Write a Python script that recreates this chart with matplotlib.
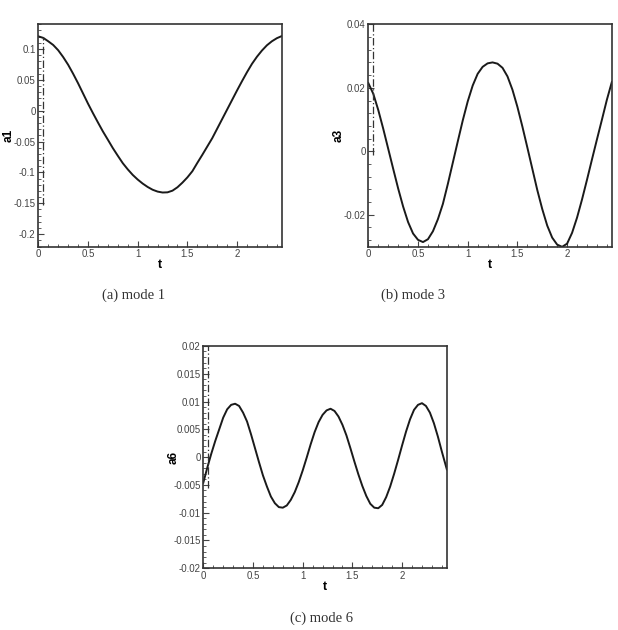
import matplotlib
matplotlib.use("Agg")
import matplotlib.pyplot as plt
from matplotlib.ticker import MultipleLocator

# mode 1 time coefficient
t_a1 = [0.0, 0.05, 0.10, 0.15, 0.20, 0.25, 0.30, 0.35, 0.40, 0.45, 0.50, 0.55, 0.60,
        0.65, 0.70, 0.75, 0.80, 0.85, 0.90, 0.95, 1.00, 1.05, 1.10, 1.15, 1.20, 1.25,
        1.30, 1.35, 1.40, 1.45, 1.50, 1.55, 1.60, 1.65, 1.70, 1.75, 1.80, 1.85, 1.90,
        1.95, 2.00, 2.05, 2.10, 2.15, 2.20, 2.25, 2.30, 2.35, 2.40, 2.45]
a1 = [0.1205, 0.118, 0.1125, 0.1065, 0.098, 0.087, 0.0745, 0.060, 0.0445, 0.028, 0.0115,
      -0.004, -0.019, -0.0336, -0.047, -0.0606, -0.073, -0.085, -0.095, -0.104, -0.1115,
      -0.118, -0.1235, -0.128, -0.131, -0.1325, -0.1322, -0.1295, -0.124, -0.1165, -0.108,
      -0.098, -0.0845, -0.0715, -0.058, -0.0445, -0.029, -0.0135, 0.002, 0.0175, 0.033,
      0.048, 0.0625, 0.076, 0.0875, 0.0975, 0.106, 0.1125, 0.1175, 0.121]

# mode 3 time coefficient
t_a3 = [0.0, 0.05, 0.10, 0.15, 0.20, 0.25, 0.30, 0.35, 0.40, 0.45, 0.50, 0.55, 0.60,
        0.65, 0.70, 0.75, 0.80, 0.85, 0.90, 0.95, 1.00, 1.05, 1.10, 1.15, 1.20, 1.25,
        1.30, 1.35, 1.40, 1.45, 1.50, 1.55, 1.60, 1.65, 1.70, 1.75, 1.80, 1.85, 1.90,
        1.95, 2.00, 2.05, 2.10, 2.15, 2.20, 2.25, 2.30, 2.35, 2.40, 2.45]
a3 = [0.0215, 0.0181, 0.0130, 0.0071, 0.0008, -0.0055, -0.0117, -0.0174, -0.0223, -0.0259,
      -0.0279, -0.0286, -0.0277, -0.0252, -0.0214, -0.0166, -0.0103, -0.0036, 0.0031, 0.0097,
      0.0157, 0.0207, 0.0244, 0.0266, 0.0277, 0.0280, 0.0276, 0.0263, 0.0236, 0.0194,
      0.0140, 0.0078, 0.0012, -0.0055, -0.0122, -0.0182, -0.0234, -0.0272, -0.0294, -0.0301,
      -0.0291, -0.0257, -0.0209, -0.0152, -0.0090, -0.0026, 0.0037, 0.0099, 0.0162, 0.0218]

# mode 6 time coefficient
t_a6 = [0.0, 0.04, 0.08, 0.12, 0.16, 0.20, 0.24, 0.28, 0.32, 0.36, 0.40, 0.44, 0.48,
        0.52, 0.56, 0.60, 0.64, 0.68, 0.72, 0.76, 0.80, 0.84, 0.88, 0.92, 0.96, 1.00,
        1.04, 1.08, 1.12, 1.16, 1.20, 1.24, 1.28, 1.32, 1.36, 1.40, 1.44, 1.48, 1.52,
        1.56, 1.60, 1.64, 1.68, 1.72, 1.76, 1.80, 1.84, 1.88, 1.92, 1.96, 2.00, 2.04,
        2.08, 2.12, 2.16, 2.20, 2.24, 2.28, 2.32, 2.36, 2.40, 2.45]
a6 = [-0.0046, -0.0019, 0.0006, 0.0029, 0.0050, 0.0071, 0.0086, 0.0094, 0.0096, 0.0092,
      0.0080, 0.0064, 0.0041, 0.0016, -0.0009, -0.0033, -0.0053, -0.0071, -0.0083, -0.0090,
      -0.0091, -0.0087, -0.0077, -0.0063, -0.0045, -0.0024, -0.0001, 0.0023, 0.0045, 0.0063,
      0.0076, 0.0084, 0.0087, 0.0083, 0.0073, 0.0058, 0.0039, 0.0016, -0.0008, -0.0031,
      -0.0052, -0.0070, -0.0084, -0.0091, -0.0092, -0.0086, -0.0072, -0.0053, -0.0030, -0.0005,
      0.0021, 0.0046, 0.0068, 0.0085, 0.0094, 0.0097, 0.0092, 0.0080, 0.0061, 0.0037,
      0.0010, -0.0022]

# dash-dot marker lines near the start of each record
cut_t = [0.05, 0.05, 0.05]
cut_lo = [-0.153, -0.0012, -0.0055]
cut_hi = [0.120, 0.040, 0.020]

ylabels = ["a1", "a3", "a6"]
captions = ["(a) mode 1", "(b) mode 3", "(c) mode 6"]
ylims = [(-0.22, 0.14), (-0.03, 0.04), (-0.02, 0.02)]
yminor = [0.01, 0.004, 0.001]
yticks = [[-0.2, -0.15, -0.1, -0.05, 0, 0.05, 0.1],
          [-0.02, 0, 0.02, 0.04],
          [-0.02, -0.015, -0.01, -0.005, 0, 0.005, 0.01, 0.015, 0.02]]
yticklabels = [["-0.2", "-0.15", "-0.1", "-0.05", "0", "0.05", "0.1"],
               ["-0.02", "0", "0.02", "0.04"],
               ["-0.02", "-0.015", "-0.01", "-0.005", "0", "0.005", "0.01", "0.015", "0.02"]]
xticks = [0, 0.5, 1, 1.5, 2]
xticklabels = ["0", "0.5", "1", "1.5", "2"]

fig = plt.figure(figsize=(6.18, 6.3), dpi=100)
rects = [[0.062, 0.6087, 0.394, 0.3527],
         [0.596, 0.6087, 0.394, 0.3527],
         [0.329, 0.098, 0.394, 0.3529]]
cap_pos = [(134 / 618, 1 - 295 / 630), (413 / 618, 1 - 295 / 630), (322 / 618, 1 - 618 / 630)]

series = [(t_a1, a1), (t_a3, a3), (t_a6, a6)]
tick_font = dict(family="Liberation Sans", size=7)

for i in range(3):
    ax = fig.add_axes(rects[i])
    t, a = series[i]
    ax.plot(t, a, color="#1a1a1a", lw=1.4)
    ax.vlines(cut_t[i], cut_lo[i], cut_hi[i], colors="#333333", lw=0.9,
              linestyles=(0, (6, 2, 1, 2)))
    ax.set_xlim(0, 2.45)
    ax.set_ylim(*ylims[i])
    ax.xaxis.set_minor_locator(MultipleLocator(0.1))
    ax.set_xticks(xticks)
    ax.set_xticklabels(xticklabels, fontdict=tick_font, color="#444444")
    ax.yaxis.set_minor_locator(MultipleLocator(yminor[i]))
    ax.set_yticks(yticks[i])
    ax.set_yticklabels(yticklabels[i], fontdict=tick_font, color="#444444")
    ax.tick_params(which="major", direction="in", length=4, width=0.8, color="#444444", pad=2)
    ax.tick_params(which="minor", direction="in", length=2, width=0.6, color="#444444")
    for s in ax.spines.values():
        s.set_linewidth(1.2)
        s.set_color("#333333")
    ax.set_xlabel("t", fontsize=9, fontweight="bold", family="Liberation Sans", labelpad=0)
    ax.set_ylabel(ylabels[i], fontsize=8.5, fontweight="bold", family="Liberation Sans")
    ax.yaxis.set_label_coords(-0.098, 0.5)
    fig.text(cap_pos[i][0], cap_pos[i][1], captions[i], ha="center", va="center",
             family="Liberation Serif", fontsize=10.5, color="#333333")

fig.savefig("out.png", dpi=100)
